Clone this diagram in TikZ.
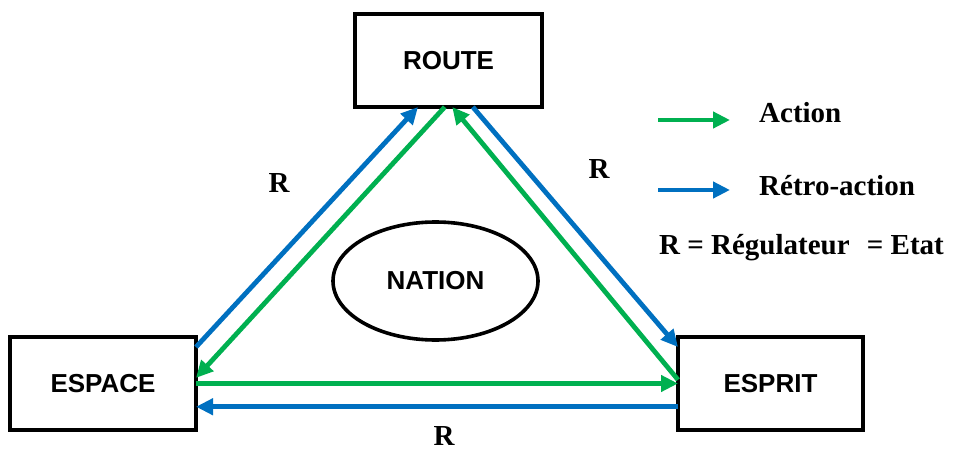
\documentclass[tikz,border=0pt]{standalone}
\usepackage{fontspec}
\setmainfont{Liberation Serif}
\setsansfont{Liberation Sans}
\usetikzlibrary{arrows.meta,calc,shapes.geometric}
\definecolor{actgreen}{RGB}{0,176,80}
\definecolor{retblue}{RGB}{0,112,192}
\tikzset{
  box/.style={draw, line width=3.4pt, inner sep=0pt, outer sep=0pt,
    minimum height=93pt, font=\sffamily\bfseries\fontsize{26}{30}\selectfont},
  oval/.style={draw, ellipse, line width=3.6pt, inner sep=0pt, outer sep=0pt,
    minimum width=205pt, minimum height=118pt, font=\sffamily\bfseries\fontsize{26}{30}\selectfont},
  actarrow/.style={draw=actgreen, line width=4.8pt, -{Triangle[length=17pt,width=16pt,fill=actgreen]}},
  retarrow/.style={draw=retblue, line width=4.8pt, -{Triangle[length=17pt,width=16pt,fill=retblue]}},
  lbl/.style={font=\bfseries\fontsize{29}{34}\selectfont, inner sep=0pt},
}
\begin{document}
\begin{tikzpicture}[x=1pt,y=-1pt]
\useasboundingbox (0,0) rectangle (954,452);
\node[box, minimum width=187pt] (route) at (448.5,60.5) {ROUTE};
\node[box, minimum width=186pt] (espace) at (103,383.5) {ESPACE};
\node[box, minimum width=185pt] (esprit) at (770.5,383.5) {ESPRIT};
\node[oval] (nation) at (435.5,281) {NATION};

% left side
\draw[retarrow] ($(espace.north east)!0.108!(espace.south east)$) -- ($(route.south west)!0.337!(route.south east)$);
\draw[actarrow] ($(route.south west)!0.48!(route.south east)$) -- ($(espace.north east)!0.44!(espace.south east)$);
% right side
\draw[actarrow] ($(esprit.north west)!0.46!(esprit.south west)$) -- ($(route.south west)!0.52!(route.south east)$);
\draw[retarrow] ($(route.south west)!0.63!(route.south east)$) -- ($(esprit.north west)!0.108!(esprit.south west)$);
% bottom
\draw[actarrow] (espace.east) -- (esprit.west);
\draw[retarrow] ($(esprit.north west)!0.75!(esprit.south west)$) -- ($(espace.north east)!0.75!(espace.south east)$);

\node[lbl] (rleft) at (279,183) {R};
\node[lbl] (rright) at (599,169) {R};
\node[lbl] (rbottom) at (444,436) {R};

% legend
\coordinate (ga) at (658,120);
\coordinate (gb) at (730,120);
\coordinate (ba) at (658,190);
\coordinate (bb) at (730,190);
\draw[actarrow] (ga) -- (gb);
\draw[retarrow] (ba) -- (bb);
\node[lbl, anchor=west] (lact) at (759,113) {Action};
\node[lbl, anchor=west] (lret) at (759,186) {Rétro-action};
\node[lbl, anchor=west] (lreg) at (659,248) {R = Régulateur\hspace{10pt} = Etat};
\end{tikzpicture}
\end{document}
